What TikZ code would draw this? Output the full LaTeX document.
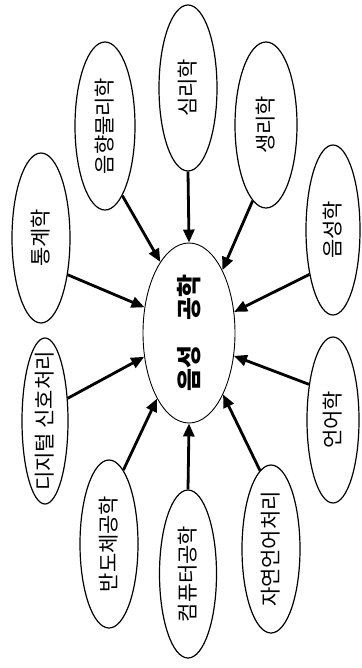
\documentclass[tikz,border=0pt]{standalone}
\usepackage{fontspec}
\newfontfamily\kr{Noto Sans CJK KR}
\usetikzlibrary{shapes.geometric,arrows.meta}
\newcommand\vtxt[1]{\rotatebox{90}{\makebox[0pt]{#1}}}
\begin{document}
\begin{tikzpicture}[x=1pt,y=-1pt,
  topic/.style={ellipse,draw,line width=1.2pt,inner sep=0pt,font=\kr\fontsize{21}{21}\selectfont},
  hub/.style={ellipse,draw,line width=0.9pt,inner sep=0pt,font=\kr\bfseries\fontsize{25}{25}\selectfont},
  arr/.style={line width=2.8pt,-{Triangle[length=13pt,width=11pt]}}]
\useasboundingbox (0,0) rectangle (361,668);
\node[hub,minimum width=92pt,minimum height=180pt] (C) at (189,333) {\vtxt{음성\hspace{1em}공학}};
\node[topic,minimum width=58pt,minimum height=170pt] (S) at (41,238) {\vtxt{통계학}};
\node[topic,minimum width=60pt,minimum height=168pt] (A) at (105,126) {\vtxt{음향물리학}};
\node[topic,minimum width=58pt,minimum height=166pt] (P) at (188,88) {\vtxt{심리학}};
\node[topic,minimum width=62pt,minimum height=166pt] (R) at (266,125) {\vtxt{생리학}};
\node[topic,minimum width=54pt,minimum height=170pt] (E) at (333,230) {\vtxt{음성학}};
\node[topic,minimum width=46pt,minimum height=166pt] (D) at (45,421) {\vtxt{디지털 신호처리}};
\node[topic,minimum width=58pt,minimum height=168pt] (B) at (109,544) {\vtxt{반도체공학}};
\node[topic,minimum width=57pt,minimum height=168pt] (M) at (188,574) {\vtxt{컴퓨터공학}};
\node[topic,minimum width=58pt,minimum height=168pt] (N) at (271,549) {\vtxt{자연언어처리}};
\node[topic,minimum width=52pt,minimum height=166pt] (L) at (333,420) {\vtxt{언어학}};
\draw[arr] (S.-54) -- (C.150);
\draw[arr] (A.-76) -- (C.112);
\draw[arr] (P.south) -- (C.north);
\draw[arr] (R.260) -- (C.62);
\draw[arr] (E.242) -- (C.25);
\draw[arr] (D.45) -- (C.208);
\draw[arr] (B.79) -- (C.244);
\draw[arr] (M.north) -- (C.south);
\draw[arr] (N.98) -- (C.-61);
\draw[arr] (L.124) -- (C.-27);
\end{tikzpicture}
\end{document}
